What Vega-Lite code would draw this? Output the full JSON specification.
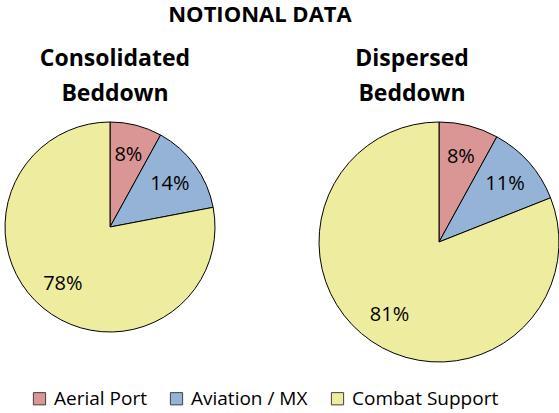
{
  "$schema": "https://vega.github.io/schema/vega-lite/v6.json",
  "background": "white",
  "padding": {"left": 3, "top": 4, "right": 0, "bottom": 0},
  "title": {"text": "NOTIONAL DATA", "font": "Open Sans", "fontSize": 22, "fontWeight": "bold", "color": "black", "anchor": "middle", "dx": -22, "offset": 21},
  "data": {"values": [
    {"pie": "Consolidated", "category": "Aerial Port", "value": 0.08},
    {"pie": "Consolidated", "category": "Aviation / MX", "value": 0.14},
    {"pie": "Consolidated", "category": "Combat Support", "value": 0.78},
    {"pie": "Dispersed", "category": "Aerial Port", "value": 0.08},
    {"pie": "Dispersed", "category": "Aviation / MX", "value": 0.11},
    {"pie": "Dispersed", "category": "Combat Support", "value": 0.81}
  ]},
  "spacing": 100,
  "hconcat": [
    {
      "title": {"text": ["Consolidated", "Beddown"], "font": "Open Sans", "fontSize": 23, "fontWeight": "bold", "color": "black", "lineHeight": 35, "anchor": "middle", "dx": 5, "offset": 14},
      "width": 210,
      "height": 210,
      "transform": [{"filter": "datum.pie == 'Consolidated'"}],
      "layer": [
        {
          "mark": {"type": "arc", "outerRadius": 105, "stroke": "black", "strokeWidth": 1},
          "encoding": {
            "theta": {"field": "value", "type": "quantitative", "stack": true},
            "color": {"field": "category", "type": "nominal",
              "scale": {"domain": ["Aerial Port", "Aviation / MX", "Combat Support"], "range": ["#D99694", "#95B3D7", "#EEEC9F"]},
              "legend": {"title": " "}}
          }
        },
        {
          "mark": {"type": "text", "radius": 74, "font": "Open Sans", "fontSize": 20, "color": "black"},
          "encoding": {
            "theta": {"field": "value", "type": "quantitative", "stack": true},
            "detail": {"field": "category", "type": "nominal"},
            "text": {"field": "value", "type": "quantitative", "format": ".0%"}
          }
        }
      ]
    },
    {
      "title": {"text": ["Dispersed", "Beddown"], "font": "Open Sans", "fontSize": 23, "fontWeight": "bold", "color": "black", "lineHeight": 35, "anchor": "middle", "dx": -27, "offset": 14},
      "width": 240,
      "height": 240,
      "transform": [{"filter": "datum.pie == 'Dispersed'"}],
      "layer": [
        {
          "mark": {"type": "arc", "outerRadius": 120, "stroke": "black", "strokeWidth": 1},
          "encoding": {
            "theta": {"field": "value", "type": "quantitative", "stack": true},
            "color": {"field": "category", "type": "nominal"}
          }
        },
        {
          "mark": {"type": "text", "radius": 88, "font": "Open Sans", "fontSize": 20, "color": "black"},
          "encoding": {
            "theta": {"field": "value", "type": "quantitative", "stack": true},
            "detail": {"field": "category", "type": "nominal"},
            "text": {"field": "value", "type": "quantitative", "format": ".0%"}
          }
        }
      ]
    }
  ],
  "config": {
    "view": {"stroke": null},
    "legend": {
      "orient": "bottom",
      "direction": "horizontal",
      "titleOrient": "left",
      "titleFontSize": 4,
      "titlePadding": 25,
      "symbolType": "square",
      "symbolSize": 150,
      "symbolStrokeColor": "#404040",
      "symbolStrokeWidth": 1,
      "labelFont": "Open Sans",
      "labelFontSize": 19,
      "labelColor": "black",
      "labelLimit": 300,
      "columnPadding": 20,
      "labelOffset": 5,
      "offset": 25
    }
  }
}
